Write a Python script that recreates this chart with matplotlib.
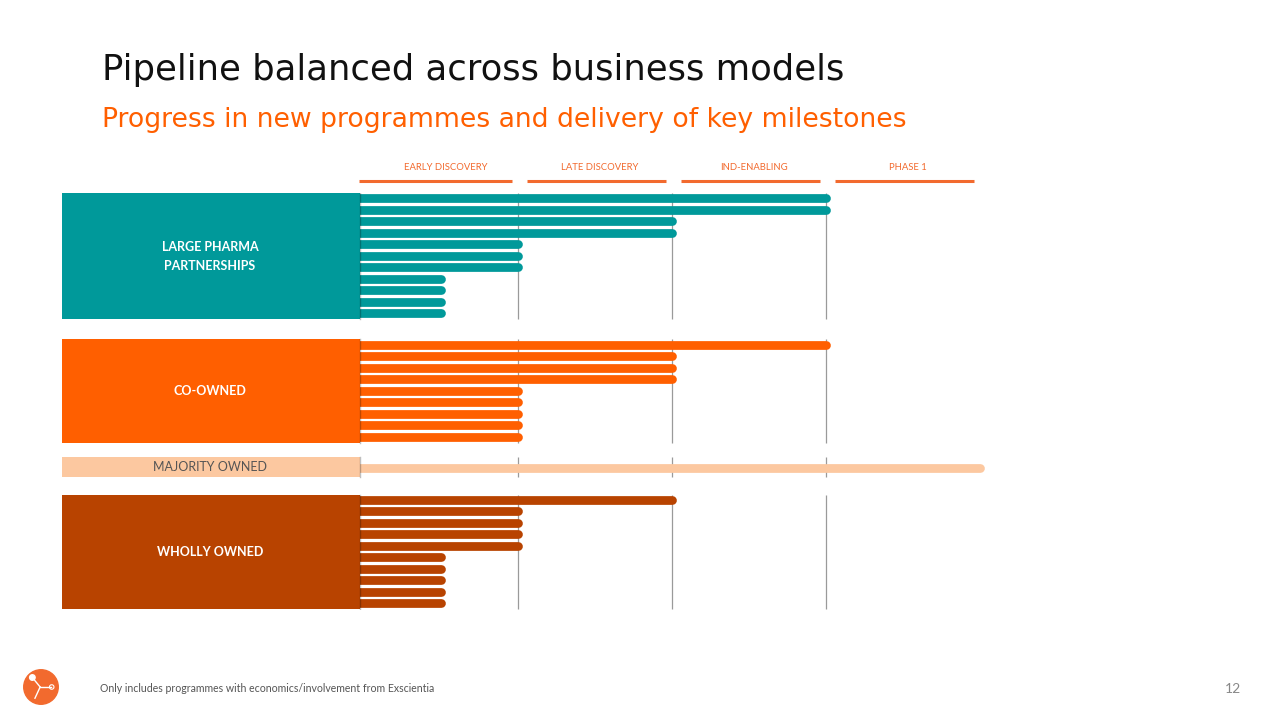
import numpy as np
import matplotlib
matplotlib.use("Agg")
import matplotlib.pyplot as plt
from matplotlib.patches import Rectangle, Circle

plt.rcParams['font.family'] = ['Lato', 'DejaVu Sans']

# stage reached by each programme (1 = end of early discovery, 2 = end of late discovery, ...)
stages = ["EARLY DISCOVERY", "LATE DISCOVERY", "IND-ENABLING", "PHASE 1"]
group_names = ["LARGE PHARMA\nPARTNERSHIPS", "CO-OWNED", "MAJORITY OWNED", "WHOLLY OWNED"]
large_pharma = [3, 3, 2, 2, 1, 1, 1, 0.5, 0.5, 0.5, 0.5]
co_owned = [3, 2, 2, 2, 1, 1, 1, 1, 1]
majority_owned = [4]
wholly_owned = [2, 1, 1, 1, 1, 0.5, 0.5, 0.5, 0.5, 0.5]

group_values = [large_pharma, co_owned, majority_owned, wholly_owned]
group_colors = ["#00999A", "#FF5F00", "#FCC8A0", "#B84300"]
label_colors = ["white", "white", "#555555", "white"]
header_color = "#F26A2E"

fig = plt.figure(figsize=(12.8, 7.2), dpi=100)

# main chart axes (pixel box 62..980 x 193..610)
ax = fig.add_axes([62 / 1280, 1 - 610 / 720, 918 / 1280, 417 / 720])
ax.set_xlim(-1.961, 4.0)
ax.set_ylim(35.85, -0.45)
ax.axis("off")

start = 0
for vals, name, col, lcol in zip(group_values, group_names, group_colors, label_colors):
    rows = start + np.arange(len(vals))
    if len(vals) > 1:
        top, bottom = rows[0] - 0.45, rows[-1] + 0.55
    else:
        top, bottom = rows[0] - 0.95, rows[0] + 0.8
    # gridlines for stage boundaries
    ax.vlines([1, 2, 3], top, bottom, color="#9a9a9a", lw=0.9, zorder=1)
    for r, v in zip(rows, vals):
        ax.plot([-0.03, v], [r, r], color=col, lw=6.3, solid_capstyle="round",
                zorder=2, clip_on=False)
    ax.add_patch(Rectangle((-1.961, top), 1.935, bottom - top, facecolor=col,
                           edgecolor="none", zorder=3))
    ax.plot([-0.026, -0.026], [top, bottom], color="black", alpha=0.25, lw=1, zorder=4)
    ax.text(-1.0, (top + bottom) / 2, name, color=lcol, fontsize=9,
            fontweight="bold" if lcol == "white" else "normal",
            ha="center", va="center", linespacing=1.7, zorder=5)
    start = rows[-1] + 2.75

# stage headers
for i, s in enumerate(stages):
    x0 = i + 0.06 if i > 0 else -0.03
    ax.plot([x0, i + 0.96], [-1.5, -1.5], color=header_color, lw=2.2,
            clip_on=False, solid_capstyle="butt")
    ax.text(i + 0.53, -2.63, s, color=header_color, fontsize=6.8,
            ha="center", va="center", clip_on=False)

# titles
fig.text(102 / 1280, 1 - 70 / 720, "Pipeline balanced across business models",
         fontsize=25.5, color="#111111", va="center", ha="left", family="DejaVu Sans")
fig.text(102 / 1280, 1 - 120 / 720,
         "Progress in new programmes and delivery of key milestones",
         fontsize=19.2, color="#FF5F00", va="center", ha="left", family="DejaVu Sans")

# footer
fig.text(100 / 1280, 1 - 689 / 720,
         "Only includes programmes with economics/involvement from Exscientia",
         fontsize=7.6, color="#555555", va="center", ha="left")
fig.text(1241 / 1280, 1 - 689 / 720, "12", fontsize=10, color="#888888",
         va="center", ha="right")

# logo
lax = fig.add_axes([22 / 1280, 1 - 706 / 720, 38 / 1280, 38 / 720])
lax.set_xlim(-1.1, 1.1)
lax.set_ylim(-1.1, 1.1)
lax.set_aspect("equal")
lax.axis("off")
lax.add_patch(Circle((0, 0), 1, color="#F26A2E"))
lax.plot([-0.5, -0.05], [0.55, 0.0], color="white", lw=1)
lax.plot([-0.05, -0.35], [0.0, -0.65], color="white", lw=1)
lax.plot([-0.05, 0.55], [0.0, 0.0], color="white", lw=1)
lax.add_patch(Circle((-0.5, 0.55), 0.16, color="white"))
lax.add_patch(Circle((0.62, 0.0), 0.13, facecolor="#F26A2E", edgecolor="white", lw=0.8))

fig.savefig("out.png", dpi=100)
